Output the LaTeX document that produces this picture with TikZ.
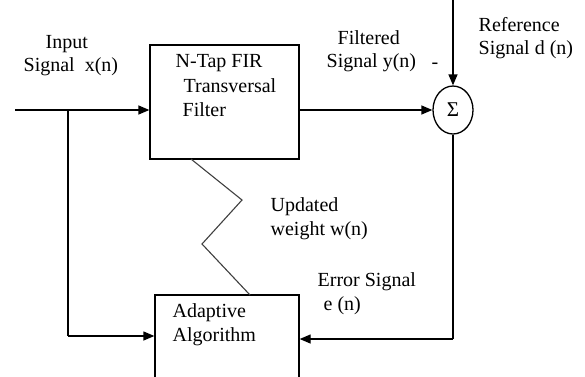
\documentclass[tikz,border=0pt]{standalone}
\usepackage{fontspec}
\setmainfont{Liberation Serif}
\usetikzlibrary{arrows.meta,shapes.geometric}
\begin{document}
\begin{tikzpicture}[x=1pt,y=-1pt,
  line width=1.3pt,
  every node/.style={font=\fontsize{20}{24}\selectfont},
  lbl/.style={anchor=west,inner sep=0pt},
  blk/.style={draw,rectangle,inner sep=0pt},
  arr/.style={-{Triangle[length=11pt,width=9pt]}},
  zig/.style={line width=1.1pt,draw=black!75}]
\useasboundingbox (0,0) rectangle (585,376);
\clip (0,0) rectangle (585,376);
% blocks
\node[blk,minimum width=149pt,minimum height=114pt] (filter) at (224.5,102) {};
\node[blk,minimum width=144pt,minimum height=110pt] (adapt) at (227,350) {};
\node[draw,ellipse,inner sep=0pt,minimum width=40pt,minimum height=48pt,font=\fontsize{21}{24}\selectfont] (sum) at (453,110) {Σ};
% coordinates
\coordinate (in) at (15,110);
\coordinate (br) at (68,110);
\coordinate (brd) at (68,336);
\coordinate (ref) at (453,0);
\coordinate (ecorner) at (453,339);
\coordinate (z0) at (191,159);
\coordinate (z1) at (242,200);
\coordinate (z2) at (202,244);
\coordinate (z3) at (250,295);
% connectors
\draw[arr] (in) -- (filter.west |- in);
\draw (br) -- (brd);
\draw[arr] (brd) -- (adapt.west |- brd);
\draw[arr] (filter.east |- sum.west) -- (sum.west);
\draw[arr] (ref) -- (sum.north);
\draw (sum.south) -- (ecorner);
\draw[arr] (ecorner) -- (adapt.east |- ecorner);
\draw[zig] (z0) -- (z1) -- (z2) -- (z3);
% labels
\node[lbl] (t1) at (45,44) {Input};
\node[lbl] (t2) at (23,67) {Signal\ \ x(n)};
\node[lbl] (t3) at (175,63) {N-Tap FIR};
\node[lbl] (t4) at (183,86) {Transversal};
\node[lbl] (t5) at (182,110) {Filter};
\node[lbl] (t6) at (337,38) {Filtered};
\node[lbl] (t7) at (326,63) {Signal y(n)};
\node[lbl] (t8) at (431,66) {-};
\node[lbl] (t9) at (478,25) {Reference};
\node[lbl] (t10) at (478,50) {Signal d (n)};
\node[lbl] (t11) at (270,207) {Updated};
\node[lbl] (t12) at (270,231) {weight w(n)};
\node[lbl] (t13) at (317,282) {Error Signal};
\node[lbl] (t14) at (323,306) {e (n)};
\node[lbl] (t15) at (172,313) {Adaptive};
\node[lbl] (t16) at (172,337) {Algorithm};
\end{tikzpicture}
\end{document}
